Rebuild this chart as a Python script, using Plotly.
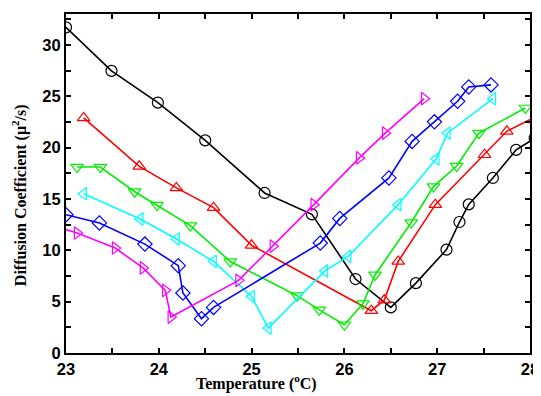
import plotly.graph_objects as go

# Series data (Temperature in °C, Diffusion coefficient)
black_x = [23.0, 23.49, 23.99, 24.5, 25.14, 25.65, 26.12, 26.5, 26.77, 27.10, 27.24, 27.34, 27.6, 27.85, 28.05]
black_y = [31.7, 27.46, 24.37, 20.7, 15.58, 13.5, 7.2, 4.44, 6.8, 10.06, 12.75, 14.47, 17.04, 19.77, 20.9]

red_x = [23.19, 23.79, 24.19, 24.59, 25.0, 26.29, 26.43, 26.58, 26.98, 27.51, 27.75, 28.15]
red_y = [22.88, 18.17, 16.07, 14.15, 10.48, 4.12, 5.15, 8.92, 14.44, 19.3, 21.58, 23.4]

green_x = [23.12, 23.37, 23.74, 23.98, 24.34, 24.77, 25.49, 25.73, 26.0, 26.2, 26.33, 26.72, 26.96, 27.21, 27.45, 27.95]
green_y = [18.1, 18.1, 15.7, 14.4, 12.4, 8.9, 5.58, 4.2, 2.75, 4.8, 7.6, 12.7, 16.2, 18.2, 21.4, 23.85]

cyan_x = [23.19, 23.8, 24.19, 24.59, 25.0, 25.18, 25.79, 26.04, 26.58, 26.99, 27.11, 27.6]
cyan_y = [15.5, 13.05, 11.1, 8.92, 5.5, 2.43, 8.0, 9.4, 14.44, 18.9, 21.4, 24.76]

blue_x = [23.0, 23.36, 23.85, 24.21, 24.26, 24.46, 24.59, 25.74, 25.95, 26.48, 26.73, 26.97, 27.22, 27.34, 27.58]
blue_y = [13.46, 12.66, 10.6, 8.5, 5.84, 3.34, 4.44, 10.7, 13.1, 17.04, 20.6, 22.5, 24.5, 25.9, 26.1]

magenta_x = [22.9, 23.12, 23.53, 23.83, 24.07, 24.13, 24.86, 25.23, 25.67, 26.16, 26.44, 26.86]
magenta_y = [12.3, 11.68, 10.22, 8.28, 6.1, 3.5, 7.07, 10.4, 14.44, 18.99, 21.4, 24.76]

x_ticks = [23, 24, 25, 26, 27, 28]
y_ticks = [0, 5, 10, 15, 20, 25, 30]

x_title = "<b>Temperature (<sup>o</sup>C)</b>"
y_title = "<b>Diffusion Coefficient (μ<sup>2</sup>/s)</b>"

series = [
    (black_x, black_y, "#000000", "circle-open"),
    (red_x, red_y, "#FF0000", "triangle-up-open"),
    (green_x, green_y, "#00EE00", "triangle-down-open"),
    (cyan_x, cyan_y, "#00FFFF", "triangle-left-open"),
    (blue_x, blue_y, "#0000FF", "diamond-open"),
    (magenta_x, magenta_y, "#FF00FF", "triangle-right-open"),
]

fig = go.Figure()
for xs, ys, col, sym in series:
    fig.add_trace(go.Scatter(
        x=xs, y=ys, mode="lines+markers",
        line=dict(color=col, width=1.6),
        marker=dict(symbol=sym, size=11, color=col, line=dict(color=col, width=1.2)),
        cliponaxis=True, showlegend=False,
    ))

tickfont = dict(family="Liberation Sans, Arial, sans-serif", size=16.5, color="black")
titlefont = dict(family="Liberation Serif, Times New Roman, serif", size=16, color="black")

# page body has an 8px default margin; size the figure to compensate
fig.update_layout(
    width=533, height=388,
    margin=dict(l=58, r=11, t=6, b=43),
    paper_bgcolor="white", plot_bgcolor="white",
)
fig.update_xaxes(
    range=[23, 28], tickvals=x_ticks, ticktext=[f"<b>{v}</b>" for v in x_ticks],
    ticks="inside", ticklen=5, tickwidth=1.5, tickcolor="black",
    minor=dict(dtick=0.5, ticks="inside", ticklen=5, tickwidth=1.5, tickcolor="black"),
    showline=True, linewidth=2, linecolor="black", mirror="ticks",
    showgrid=False, zeroline=False, tickfont=tickfont, automargin=False,
)
fig.update_yaxes(
    range=[0, 33], tickvals=y_ticks, ticktext=[f"<b>{v}</b>" for v in y_ticks],
    ticks="inside", ticklen=5, tickwidth=1.5, tickcolor="black",
    minor=dict(dtick=2.5, ticks="inside", ticklen=5, tickwidth=1.5, tickcolor="black"),
    showline=True, linewidth=2, linecolor="black", mirror="ticks",
    showgrid=False, zeroline=False, tickfont=tickfont, automargin=False,
)
fig.add_annotation(
    text=x_title, xref="paper", yref="paper", x=0.41, y=-0.124,
    xanchor="center", yanchor="bottom", showarrow=False, font=titlefont,
)
fig.add_annotation(
    text=y_title, xref="paper", yref="paper", x=-0.101, y=0.466,
    xanchor="center", yanchor="middle", showarrow=False, font=titlefont, textangle=-90,
)

fig.write_html("out.html")
